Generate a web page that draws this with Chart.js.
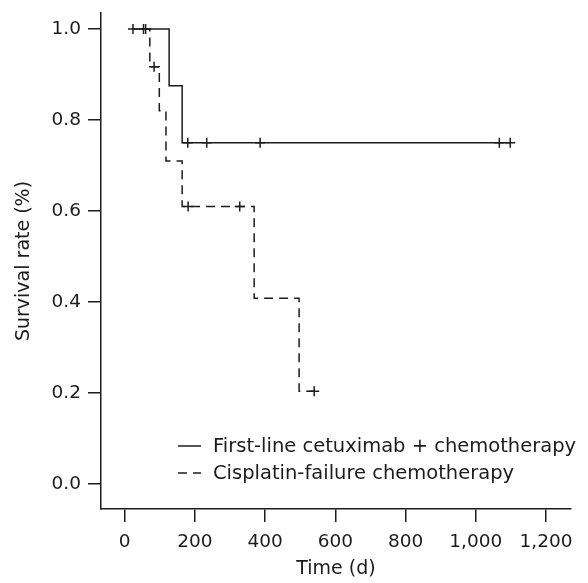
<!DOCTYPE html>
<html>
<head>
<meta charset="utf-8">
<script src="https://cdn.jsdelivr.net/npm/chart.js@4.4.1/dist/chart.umd.min.js"></script>
<style>
  html, body { margin: 0; padding: 0; background: #fff; }
  #wrap { width: 588px; height: 583px; position: relative; }
</style>
</head>
<body>
<div id="wrap"><canvas id="km"></canvas></div>
<script>
// Kaplan-Meier curves (days, survival)
const seriesNames = ['First-line cetuximab + chemotherapy', 'Cisplatin-failure chemotherapy'];

const cetuxDays = [24, 127, 164, 1098];
const cetuxSurv = [1.0, 0.875, 0.75, 0.75];
const cetuxCensorDays = [24, 180, 234, 386, 1067, 1098];
const cetuxCensorSurv = [1.0, 0.75, 0.75, 0.75, 0.75, 0.75];

const cisDays = [54, 72, 99, 118, 164, 369, 497, 540];
const cisSurv = [1.0, 0.917, 0.82, 0.71, 0.61, 0.408, 0.204, 0.204];
const cisCensorDays = [54, 60, 84, 181, 328, 540];
const cisCensorSurv = [1.0, 1.0, 0.917, 0.61, 0.61, 0.204];

const xTicks = [0, 200, 400, 600, 800, 1000, 1200];
const yTicks = [0, 0.2, 0.4, 0.6, 0.8, 1.0];

const INK = '#1c1c1c';
const FONT = 'DejaVu Sans';
const DASH = [9, 6];
const LW = 1.5;

const toPts = (xs, ys) => xs.map((x, i) => ({ x, y: ys[i] }));

// legend drawn inside the plot, lower right
const innerLegend = {
    id: 'innerLegend',
    afterDraw(chart) {
        const ctx = chart.ctx;
        const rows = [
            { label: seriesNames[0], dash: [], y: 446 },
            { label: seriesNames[1], dash: DASH, y: 473 }
        ];
        ctx.save();
        ctx.strokeStyle = INK;
        ctx.fillStyle = INK;
        ctx.lineWidth = LW;
        ctx.font = `19.5px "${FONT}"`;
        ctx.textBaseline = 'middle';
        rows.forEach(r => {
            ctx.setLineDash(r.dash);
            ctx.beginPath();
            ctx.moveTo(178, r.y);
            ctx.lineTo(201, r.y);
            ctx.stroke();
            ctx.setLineDash([]);
            ctx.fillText(r.label, 213, r.y + 1);
        });
        ctx.restore();
    }
};

new Chart(document.getElementById('km'), {
    type: 'line',
    data: {
        datasets: [
            {
                data: toPts(cetuxDays, cetuxSurv),
                borderColor: INK,
                borderWidth: LW,
                stepped: 'before',
                pointRadius: 0
            },
            {
                data: toPts(cisDays, cisSurv),
                borderColor: INK,
                borderWidth: LW,
                borderDash: DASH,
                stepped: 'before',
                pointRadius: 0
            },
            {
                type: 'scatter',
                data: toPts(cetuxCensorDays, cetuxCensorSurv),
                pointStyle: 'cross',
                pointRadius: 5,
                borderColor: INK,
                borderWidth: LW
            },
            {
                type: 'scatter',
                data: toPts(cisCensorDays, cisCensorSurv),
                pointStyle: 'cross',
                pointRadius: 5,
                borderColor: INK,
                borderWidth: LW
            }
        ]
    },
    options: {
        responsive: true,
        maintainAspectRatio: false,
        animation: false,
        layout: { padding: { top: 13, right: 17, left: 0, bottom: 0 } },
        plugins: {
            legend: { display: false },
            tooltip: { enabled: false }
        },
        scales: {
            x: {
                type: 'linear',
                min: -67,
                max: 1271,
                afterBuildTicks: s => { s.ticks = xTicks.map(v => ({ value: v })); },
                afterFit: s => { s.height = 74; s.paddingLeft = 0; s.paddingRight = 0; },
                grid: { drawOnChartArea: false, drawTicks: true, tickLength: 13, color: INK, lineWidth: LW },
                border: { display: true, color: INK, width: LW },
                ticks: {
                    color: INK, padding: 9, maxRotation: 0,
                    font: { family: FONT, size: 18.5 },
                    callback: v => v.toLocaleString('en-US')
                },
                title: {
                    display: true, text: 'Time (d)', color: INK,
                    font: { family: FONT, size: 19 },
                    padding: { top: 0, bottom: 3 }
                }
            },
            y: {
                type: 'linear',
                min: -0.055,
                max: 1.035,
                afterBuildTicks: s => { s.ticks = yTicks.map(v => ({ value: v })); },
                afterFit: s => { s.width = 101; s.paddingTop = 0; s.paddingBottom = 0; },
                grid: { drawOnChartArea: false, drawTicks: true, tickLength: 13, color: INK, lineWidth: LW },
                border: { display: true, color: INK, width: LW },
                ticks: {
                    color: INK, padding: 7,
                    font: { family: FONT, size: 18.5 },
                    callback: v => v.toFixed(1)
                },
                title: {
                    display: true, text: 'Survival rate (%)', color: INK,
                    font: { family: FONT, size: 19 },
                    padding: { top: 13, bottom: 0 }
                }
            }
        }
    },
    plugins: [innerLegend]
});
</script>
</body>
</html>
